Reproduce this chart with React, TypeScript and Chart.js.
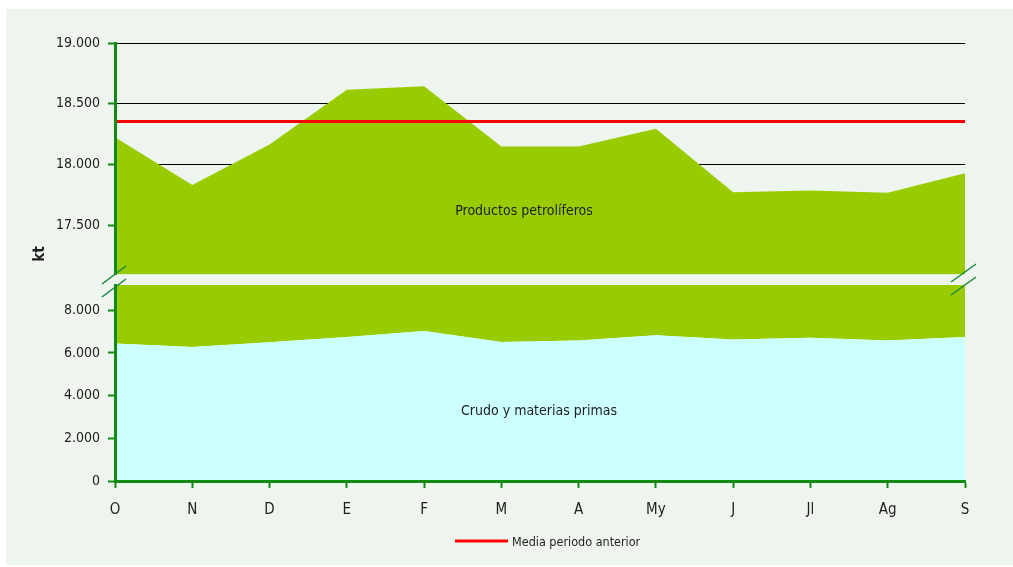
import React, { useEffect, useRef } from "react";
import { Chart, registerables } from "chart.js";
Chart.register(...registerables);

// ---- data ----
const months = ["O", "N", "D", "E", "F", "M", "A", "My", "J", "Jl", "Ag", "S"];
const crudo = [6440, 6280, 6500, 6750, 7020, 6515, 6580, 6830, 6625, 6705, 6580, 6750];
const productos = [11785, 11553, 11665, 11865, 11625, 11633, 11568, 11464, 11147, 11081, 11189, 11178];
const mediaAnterior = [18355, 18355, 18355, 18355, 18355, 18355, 18355, 18355, 18355, 18355, 18355, 18355];
const topTicks = [17500, 18000, 18500, 19000];
const bottomTicks = [0, 2000, 4000, 6000, 8000];
const topRange = [17095, 19000];
const bottomRange = [0, 9180];
const labelProductos = "Productos petrolíferos";
const labelCrudo = "Crudo y materias primas";
const labelMedia = "Media periodo anterior";
const axisTitle = "kt";

// ---- styles ----
const FONT = "'Liberation Sans Narrow', 'DejaVu Sans Condensed', 'Open Sans', sans-serif";
const BG = "#eef5ee";
const GREEN_AXIS = "#138a13";
const GREEN_FILL = "#99cc00";
const CYAN_FILL = "#ccffff";
const RED = "#ff0000";
const TEXT = "#1e1e1e";

const fmt = (v: number) => String(v).replace(/\B(?=(\d{3})+(?!\d))/g, ".");

Chart.defaults.font.family = FONT;

export default function App() {
  const topRef = useRef<HTMLCanvasElement>(null);
  const botRef = useRef<HTMLCanvasElement>(null);

  useEffect(() => {
    const topPlugin = {
      id: "topText",
      afterDraw(chart: any) {
        const ctx = chart.ctx;
        ctx.save();
        ctx.fillStyle = TEXT;
        ctx.font = `14px ${FONT}`;
        ctx.textAlign = "center";
        ctx.textBaseline = "middle";
        ctx.fillText(labelProductos, 518, 202);
        ctx.translate(34, 245);
        ctx.rotate(-Math.PI / 2);
        ctx.font = `bold 15px ${FONT}`;
        ctx.fillText(axisTitle, 0, 0);
        ctx.restore();
      },
    };

    const botPlugin = {
      id: "botText",
      afterDraw(chart: any) {
        const ctx = chart.ctx;
        ctx.save();
        ctx.fillStyle = TEXT;
        ctx.font = `14px ${FONT}`;
        ctx.textAlign = "center";
        ctx.textBaseline = "middle";
        ctx.fillText(labelCrudo, 533, 151);
        // break marks
        ctx.strokeStyle = "#168a3a";
        ctx.lineWidth = 1.5;
        const seg = (x1: number, y1: number, x2: number, y2: number) => {
          ctx.beginPath();
          ctx.moveTo(x1, y1);
          ctx.lineTo(x2, y2);
          ctx.stroke();
        };
        seg(96, 24, 120, 6);
        seg(96, 37, 120, 19);
        seg(945, 22, 970, 4);
        seg(945, 35, 970, 17);
        // legend
        ctx.strokeStyle = RED;
        ctx.lineWidth = 3;
        seg(449, 281, 502, 281);
        ctx.font = `12.5px ${FONT}`;
        ctx.textAlign = "left";
        ctx.fillText(labelMedia, 506, 283);
        ctx.restore();
      },
    };

    const topChart = new Chart(topRef.current!, {
      type: "line",
      data: {
        labels: months,
        datasets: [
          {
            label: labelMedia,
            data: mediaAnterior,
            borderColor: RED,
            borderWidth: 3,
            pointRadius: 0,
            fill: false,
            stack: "media",
          } as any,
          {
            label: labelCrudo,
            data: crudo,
            borderWidth: 0,
            pointRadius: 0,
            fill: false,
            stack: "main",
          },
          {
            label: labelProductos,
            data: productos,
            borderWidth: 0,
            pointRadius: 0,
            backgroundColor: GREEN_FILL,
            fill: "start",
            stack: "main",
          },
        ],
      },
      options: {
        animation: false,
        responsive: true,
        maintainAspectRatio: false,
        layout: { padding: { left: 0, right: 48, top: 34, bottom: 0 } },
        plugins: { legend: { display: false }, tooltip: { enabled: false } },
        scales: {
          x: { display: false, offset: false },
          y: {
            stacked: true,
            min: topRange[0],
            max: topRange[1],
            afterFit: (s: any) => {
              s.width = 109;
            },
            afterBuildTicks: (s: any) => {
              s.ticks = topTicks.map((v) => ({ value: v }));
            },
            border: { color: GREEN_AXIS, width: 3, z: 1 },
            grid: { color: "#000000", lineWidth: 1, tickColor: GREEN_AXIS, tickLength: 7, tickWidth: 2 },
            ticks: { callback: (v: any) => fmt(v), color: TEXT, font: { size: 14 }, padding: 8 },
          },
        },
      },
      plugins: [topPlugin],
    });

    const botChart = new Chart(botRef.current!, {
      type: "line",
      data: {
        labels: months,
        datasets: [
          {
            label: labelCrudo,
            data: crudo,
            borderWidth: 0,
            pointRadius: 0,
            backgroundColor: CYAN_FILL,
            fill: "origin",
          },
          {
            label: labelProductos,
            data: productos,
            borderWidth: 0,
            pointRadius: 0,
            backgroundColor: GREEN_FILL,
            fill: "-1",
          },
        ],
      },
      options: {
        animation: false,
        responsive: true,
        maintainAspectRatio: false,
        layout: { padding: { left: 0, right: 48, top: 25, bottom: 0 } },
        plugins: { legend: { display: false }, tooltip: { enabled: false } },
        scales: {
          x: {
            offset: false,
            afterFit: (s: any) => {
              s.height = 84;
            },
            border: { color: GREEN_AXIS, width: 3, z: 1 },
            grid: { drawOnChartArea: false, tickColor: GREEN_AXIS, tickLength: 7, tickWidth: 2 },
            ticks: { color: TEXT, font: { size: 15 }, padding: 13, maxRotation: 0, autoSkip: false },
          },
          y: {
            stacked: true,
            min: bottomRange[0],
            max: bottomRange[1],
            afterFit: (s: any) => {
              s.width = 109;
            },
            afterBuildTicks: (s: any) => {
              s.ticks = bottomTicks.map((v) => ({ value: v }));
            },
            border: { color: GREEN_AXIS, width: 3, z: 1 },
            grid: { color: "#000000", lineWidth: 1, tickColor: GREEN_AXIS, tickLength: 7, tickWidth: 2 },
            ticks: { callback: (v: any) => fmt(v), color: TEXT, font: { size: 14 }, padding: 8 },
          },
        },
      },
      plugins: [botPlugin],
    });

    return () => {
      topChart.destroy();
      botChart.destroy();
    };
  }, []);

  return (
    <div style={{ position: "absolute", left: 6, top: 9, width: 1007, height: 556, background: BG }}>
      <div style={{ position: "absolute", left: 0, top: 0, width: 1007, height: 282 }}>
        <canvas ref={topRef} />
      </div>
      <div style={{ position: "absolute", left: 0, top: 251, width: 1007, height: 305 }}>
        <canvas ref={botRef} />
      </div>
    </div>
  );
}
